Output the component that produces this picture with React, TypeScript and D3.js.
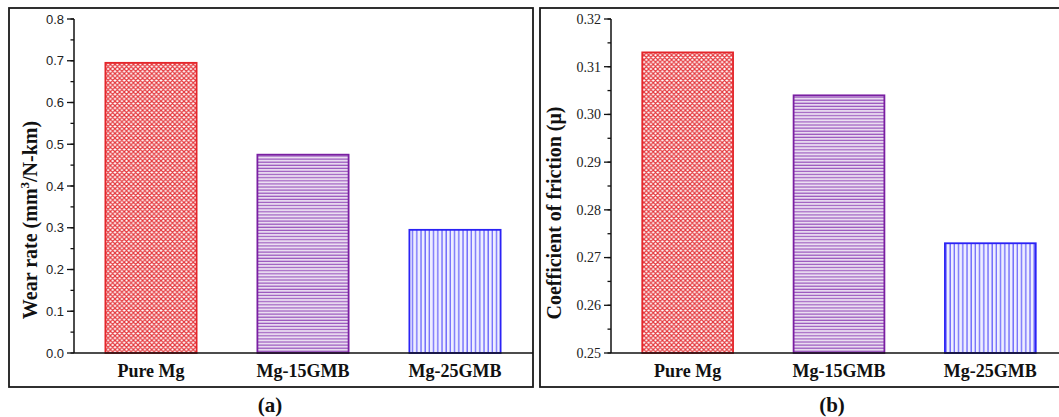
import React, { useRef, useEffect } from "react";
import * as d3 from "d3";

// data
const samples = ["Pure Mg", "Mg-15GMB", "Mg-25GMB"];
const wearRate = [0.695, 0.475, 0.295];
const friction = [0.313, 0.304, 0.273];
const wearTicks = [0, 0.1, 0.2, 0.3, 0.4, 0.5, 0.6, 0.7, 0.8];
const frictionTicks = [0.25, 0.26, 0.27, 0.28, 0.29, 0.3, 0.31, 0.32];

const barColors = ["#e4262b", "#7a1fa2", "#2b22f5"];
const patternIds = ["hatch-cross", "hatch-horiz", "hatch-vert"];

const W = 1059;
const H = 417;
const serif = "'Liberation Serif', 'Times New Roman', serif";
const sans = "'Liberation Sans', Arial, sans-serif";

const App = () => {
  const svgRef = useRef<SVGSVGElement>(null);

  useEffect(() => {
    const svg = d3.select(svgRef.current);
    svg.selectAll("*").remove();

    // fill patterns
    const defs = svg.append("defs");
    const cross = defs
      .append("pattern")
      .attr("id", patternIds[0])
      .attr("patternUnits", "userSpaceOnUse")
      .attr("width", 4.6)
      .attr("height", 4.6);
    cross
      .append("path")
      .attr("d", "M0,0 L4.6,4.6 M4.6,0 L0,4.6 M-1,3.6 L1,5.6 M3.6,-1 L5.6,1 M-1,1 L1,-1 M3.6,5.6 L5.6,3.6")
      .attr("stroke", "#e4373c")
      .attr("stroke-width", 1.2)
      .attr("fill", "none");

    const horiz = defs
      .append("pattern")
      .attr("id", patternIds[1])
      .attr("patternUnits", "userSpaceOnUse")
      .attr("width", 10)
      .attr("height", 3.1);
    horiz
      .append("rect")
      .attr("width", 10)
      .attr("height", 3.1)
      .attr("fill", "#ebdff2");
    horiz
      .append("line")
      .attr("x1", 0)
      .attr("x2", 10)
      .attr("y1", 1)
      .attr("y2", 1)
      .attr("stroke", "#9a56bd")
      .attr("stroke-width", 1.2);

    const vert = defs
      .append("pattern")
      .attr("id", patternIds[2])
      .attr("patternUnits", "userSpaceOnUse")
      .attr("width", 4.2)
      .attr("height", 10);
    vert
      .append("rect")
      .attr("width", 4.2)
      .attr("height", 10)
      .attr("fill", "#eeeeff");
    vert
      .append("line")
      .attr("x1", 1)
      .attr("x2", 1)
      .attr("y1", 0)
      .attr("y2", 10)
      .attr("stroke", "#6a66fb")
      .attr("stroke-width", 1.3);

    const drawPanel = (opts) => {
      const { box, xRange, yDomain, ticks, minorStep, values, tickFmt, tickFont, tickSize, title, titleX, titleY, caption, captionX } = opts;
      const g = svg.append("g");

      // panel frame
      g.append("rect")
        .attr("x", box[0])
        .attr("y", box[1])
        .attr("width", box[2] - box[0])
        .attr("height", box[3] - box[1])
        .attr("fill", "none")
        .attr("stroke", "#1a1a1a")
        .attr("stroke-width", 1.8);

      const x = d3.scaleBand().domain(samples).range(xRange).paddingInner(0.4).paddingOuter(0.2);
      const y = d3.scaleLinear().domain(yDomain).range([353, 19]);
      const axisX = xRange[0] - 1;

      // bars
      g.selectAll("rect.bar")
        .data(values)
        .join("rect")
        .attr("class", "bar")
        .attr("x", (d, i) => x(samples[i]))
        .attr("y", (d) => y(d))
        .attr("width", x.bandwidth())
        .attr("height", (d) => y(yDomain[0]) - y(d))
        .attr("fill", (d, i) => `url(#${patternIds[i]})`)
        .attr("stroke", (d, i) => barColors[i])
        .attr("stroke-width", 1.8);

      // x axis line
      g.append("line")
        .attr("x1", axisX)
        .attr("x2", box[2])
        .attr("y1", y(yDomain[0]))
        .attr("y2", y(yDomain[0]))
        .attr("stroke", "#111")
        .attr("stroke-width", 1.5);

      // y axis with minor ticks
      const minor = d3.range(yDomain[0], yDomain[1] + minorStep / 2, minorStep);
      const yAxis = g.append("g").attr("transform", `translate(${axisX},0)`);
      yAxis
        .append("line")
        .attr("y1", y(yDomain[0]))
        .attr("y2", y(yDomain[1]))
        .attr("stroke", "#111")
        .attr("stroke-width", 1.5);
      yAxis
        .selectAll("line.minor")
        .data(minor)
        .join("line")
        .attr("class", "minor")
        .attr("x1", -3.5)
        .attr("x2", 0)
        .attr("y1", (d) => y(d))
        .attr("y2", (d) => y(d))
        .attr("stroke", "#111")
        .attr("stroke-width", 1.3);
      yAxis
        .selectAll("line.major")
        .data(ticks)
        .join("line")
        .attr("class", "major")
        .attr("x1", -7)
        .attr("x2", 0)
        .attr("y1", (d) => y(d))
        .attr("y2", (d) => y(d))
        .attr("stroke", "#111")
        .attr("stroke-width", 1.3);
      yAxis
        .selectAll("text")
        .data(ticks)
        .join("text")
        .attr("x", -10)
        .attr("y", (d) => y(d))
        .attr("dy", "0.35em")
        .attr("text-anchor", "end")
        .attr("font-family", tickFont)
        .attr("font-size", tickSize)
        .attr("fill", "#222")
        .text((d) => d3.format(tickFmt)(d));

      // category labels
      g.selectAll("text.cat")
        .data(samples)
        .join("text")
        .attr("class", "cat")
        .attr("x", (d) => x(d) + x.bandwidth() / 2)
        .attr("y", 377)
        .attr("text-anchor", "middle")
        .attr("font-family", serif)
        .attr("font-weight", "bold")
        .attr("font-size", 18)
        .attr("fill", "#111")
        .text((d) => d);

      // y title
      const t = g
        .append("text")
        .attr("transform", `translate(${titleX},${titleY}) rotate(-90)`)
        .attr("text-anchor", "middle")
        .attr("font-family", serif)
        .attr("font-weight", "bold")
        .attr("font-size", 20)
        .attr("fill", "#111");
      title(t);

      // panel caption
      svg
        .append("text")
        .attr("x", captionX)
        .attr("y", 412)
        .attr("text-anchor", "middle")
        .attr("font-family", serif)
        .attr("font-weight", "bold")
        .attr("font-size", 21)
        .attr("fill", "#111")
        .text(caption);
    };

    drawPanel({
      box: [9, 8, 533, 387],
      xRange: [75, 531],
      yDomain: [0, 0.8],
      ticks: wearTicks,
      minorStep: 0.05,
      values: wearRate,
      tickFmt: ".1f",
      tickFont: sans,
      tickSize: 13,
      titleX: 37,
      titleY: 220,
      caption: "(a)",
      captionX: 270,
      title: (t) => {
        t.append("tspan").text("Wear rate (mm");
        t.append("tspan").attr("font-size", 13).attr("dy", -8).text("3");
        t.append("tspan").attr("dy", 8).text("/N-km)");
      },
    });

    drawPanel({
      box: [540, 8, 1062, 387],
      xRange: [612, 1066],
      yDomain: [0.25, 0.32],
      ticks: frictionTicks,
      minorStep: 0.005,
      values: friction,
      tickFmt: ".2f",
      tickFont: serif,
      tickSize: 14,
      titleX: 561,
      titleY: 213,
      caption: "(b)",
      captionX: 832,
      title: (t) => t.text("Coefficient of friction (\u03bc)"),
    });
  }, []);

  return (
    <svg
      ref={svgRef}
      width={W}
      height={H}
      style={{ position: "absolute", left: 0, top: 0, background: "#fff" }}
    ></svg>
  );
};

export default App;
